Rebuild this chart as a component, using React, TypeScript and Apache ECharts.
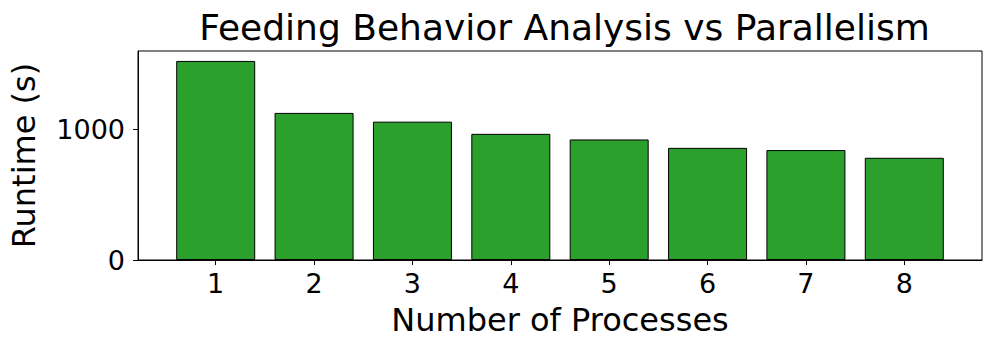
import React, { useEffect, useRef } from "react";
import * as echarts from "echarts";

const processes = [1, 2, 3, 4, 5, 6, 7, 8];
const runtimes = [1521, 1124, 1057, 964, 921, 857, 840, 781];
const yTicks = [0, 1000];
const titleText = "Feeding Behavior Analysis vs Parallelism";
const xLabel = "Number of Processes";
const yLabel = "Runtime (s)";

export default function App() {
  const ref = useRef<HTMLDivElement>(null);
  useEffect(() => {
    document.body.style.margin = "0";
    const chart = echarts.init(ref.current!, null, { renderer: "svg" });
    const font = "'DejaVu Sans', sans-serif";
    chart.setOption({
      animation: false,
      textStyle: { fontFamily: font },
      title: {
        text: titleText,
        left: 559.5,
        textAlign: "center",
        top: 4,
        textStyle: { fontFamily: font, fontSize: 36, fontWeight: "normal", color: "#000" },
      },
      grid: {
        left: 137,
        right: 14,
        top: 51,
        bottom: 92,
        show: true,
        borderColor: "#000",
        borderWidth: 1,
        containLabel: false,
      },
      xAxis: {
        type: "value",
        min: 0.21,
        max: 8.79,
        name: xLabel,
        nameLocation: "middle",
        nameGap: 44,
        nameTextStyle: { fontFamily: font, fontSize: 32, color: "#000" },
        splitLine: { show: false },
        axisLine: { show: true, lineStyle: { color: "#000", width: 1 } },
        axisTick: { show: true, length: 5, customValues: processes, lineStyle: { color: "#000" } },
        axisLabel: { customValues: processes, fontSize: 27, color: "#000", margin: 10, fontFamily: font, formatter: (v: number) => String(v) },
      },
      yAxis: {
        type: "value",
        min: 0,
        max: 1597,
        name: yLabel,
        nameLocation: "middle",
        nameGap: 98,
        nameTextStyle: { fontFamily: font, fontSize: 32, color: "#000" },
        splitLine: { show: false },
        axisLine: { show: true, lineStyle: { color: "#000", width: 1 } },
        axisTick: { show: true, length: 5, customValues: yTicks, lineStyle: { color: "#000" } },
        axisLabel: { customValues: yTicks, fontSize: 27, color: "#000", margin: 13, fontFamily: font, formatter: (v: number) => String(v) },
      },
      series: [
        {
          type: "bar",
          data: processes.map((p, i) => [p, runtimes[i]]),
          barWidth: 79,
          itemStyle: { color: "#2ca02c", borderColor: "#000", borderWidth: 1 },
        },
      ],
    });
    return () => chart.dispose();
  }, []);
  return <div ref={ref} style={{ width: 996, height: 352 }} />;
}
